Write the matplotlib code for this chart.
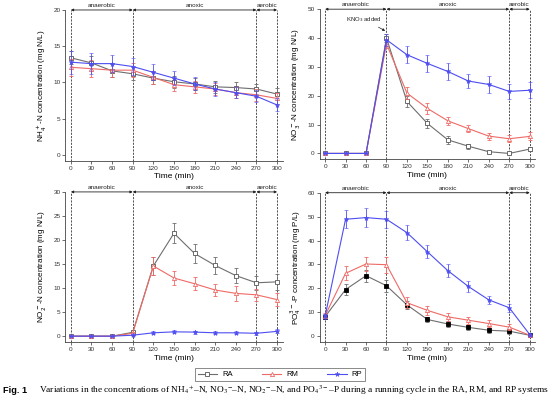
import numpy as np
import matplotlib
matplotlib.use("Agg")
import matplotlib.pyplot as plt
from matplotlib.lines import Line2D

plt.rcParams['font.family'] = ['Liberation Sans', 'DejaVu Sans']

time = [0, 30, 60, 90, 120, 150, 180, 210, 240, 270, 300]
xticks = [0, 30, 60, 90, 120, 150, 180, 210, 240, 270, 300]

# NH4+-N
nh4_ra = [13.4, 12.7, 11.6, 11.2, 10.6, 10.1, 9.8, 9.4, 9.3, 9.1, 8.4]
nh4_rm = [12.1, 11.9, 11.7, 11.7, 10.7, 9.7, 9.4, 9.1, 8.6, 8.3, 7.8]
nh4_rp = [12.8, 12.6, 12.6, 12.2, 11.4, 10.6, 9.8, 9.1, 8.6, 8.1, 6.9]
nh4_ra_err = [0.9, 1.0, 0.9, 0.9, 0.8, 0.8, 0.8, 0.8, 0.7, 0.7, 0.8]
nh4_rm_err = [1.2, 1.2, 1.0, 1.0, 0.9, 0.9, 0.8, 0.8, 0.8, 0.8, 0.8]
nh4_rp_err = [1.6, 1.4, 1.2, 1.2, 1.1, 1.0, 0.9, 0.9, 0.8, 0.8, 0.9]

# NO3--N
no3_ra = [0, 0, 0, 40.0, 18.0, 10.4, 4.7, 2.5, 0.6, 0.0, 1.5]
no3_rm = [0, 0, 0, 38.0, 20.9, 15.6, 11.3, 8.6, 6.0, 5.1, 5.9]
no3_rp = [0, 0, 0, 39.4, 34.2, 31.2, 28.4, 25.1, 23.9, 21.5, 21.9]
no3_ra_err = [0, 0, 0, 1.5, 2.0, 1.6, 1.3, 0.8, 0.4, 0.2, 0.6]
no3_rm_err = [0, 0, 0, 1.5, 2.2, 1.8, 1.5, 1.3, 1.2, 1.3, 1.4]
no3_rp_err = [0, 0, 0, 2.0, 3.0, 3.0, 3.0, 2.5, 2.8, 2.5, 2.8]

# NO2--N
no2_ra = [0, 0, 0, 0.8, 14.6, 21.4, 17.2, 14.7, 12.6, 11.1, 11.3]
no2_rm = [0, 0, 0, 0.6, 14.6, 12.1, 10.9, 9.6, 8.9, 8.6, 7.6]
no2_rp = [0, 0, 0, 0.2, 0.7, 0.9, 0.85, 0.7, 0.7, 0.6, 1.0]
no2_ra_err = [0, 0, 0, 0.2, 1.8, 2.1, 2.0, 1.7, 1.6, 1.5, 1.7]
no2_rm_err = [0, 0, 0, 0.2, 1.8, 1.5, 1.4, 1.3, 1.5, 1.3, 1.3]
no2_rp_err = [0, 0, 0, 0.1, 0.3, 0.3, 0.3, 0.3, 0.3, 0.3, 0.4]

# PO43--P
po4_ra = [8.2, 19.5, 25.3, 21.1, 13.1, 7.0, 5.1, 3.7, 2.5, 2.1, 0.4]
po4_rm = [8.6, 26.3, 30.2, 29.9, 14.0, 10.8, 8.1, 6.7, 5.3, 3.8, 0.4]
po4_rp = [8.4, 48.9, 49.6, 48.9, 43.3, 35.3, 27.4, 20.8, 15.2, 11.9, 0.7]
po4_ra_err = [1.0, 2.2, 2.5, 2.5, 1.6, 1.2, 1.2, 1.1, 1.1, 1.1, 0.3]
po4_rm_err = [1.0, 3.0, 3.0, 3.3, 2.2, 1.8, 1.6, 1.5, 1.5, 1.3, 0.3]
po4_rp_err = [1.0, 3.8, 4.0, 3.5, 3.2, 2.8, 2.7, 2.3, 1.8, 1.7, 0.5]

phase_bounds = [0, 90, 270, 300]
phase_names = ['anaerobic', 'anoxic', 'aerobic']

c_ra = '#6e6e6e'
c_rm = '#ee6a66'
c_rp = '#4d4df2'


def draw_panel(ax, ra, rm, rp, ra_err, rm_err, rp_err, ymax, ystep, ylabel, ra_filled=False):
    ymin = -0.04 * ymax
    for x in phase_bounds:
        ax.plot([x, x], [ymin, ymax], ls=(0, (2.5, 1.5)), color='#333333', lw=0.6, zorder=1)
    for i in range(3):
        x0, x1 = phase_bounds[i], phase_bounds[i + 1]
        ax.annotate('', xy=(x1, ymax), xytext=(x0, ymax),
                    arrowprops=dict(arrowstyle='<|-|>', color='#222222', lw=0.6,
                                    mutation_scale=3.5, shrinkA=0, shrinkB=0),
                    annotation_clip=False)
        ax.text((x0 + x1) / 2, ymax + 0.015 * ymax, phase_names[i], ha='center', va='bottom',
                fontsize=4.6, color='#222222', clip_on=False)

    ra_face = 'black' if ra_filled else 'white'
    ra_edge = 'black' if ra_filled else '#555555'
    ax.errorbar(time, ra, yerr=ra_err, color=c_ra, lw=0.8, marker='s', ms=3,
                mfc=ra_face, mec=ra_edge, mew=0.6, elinewidth=0.6, capsize=1.3,
                capthick=0.6, zorder=3)
    ax.errorbar(time, rm, yerr=rm_err, color=c_rm, lw=0.8, marker='^', ms=3,
                mfc='white', mec=c_rm, mew=0.6, elinewidth=0.6, capsize=1.3,
                capthick=0.6, zorder=4)
    ax.errorbar(time, rp, yerr=rp_err, color=c_rp, lw=0.8, marker='*', ms=3.5,
                mfc=c_rp, mec=c_rp, mew=0.4, elinewidth=0.6, capsize=1.3,
                capthick=0.6, zorder=5)

    ax.set_xlim(-8, 308)
    ax.set_ylim(ymin, ymax)
    ax.set_xticks(xticks)
    ax.set_yticks(np.arange(0, ymax + 0.1, ystep))
    for s in ['top', 'right']:
        ax.spines[s].set_visible(False)
    for s in ['left', 'bottom']:
        ax.spines[s].set_linewidth(0.6)
        ax.spines[s].set_color('#444444')
    ax.tick_params(labelsize=4.6, length=2, width=0.5, pad=1.5, colors='#333333')
    ax.set_xlabel('Time (min)', fontsize=6, labelpad=2)
    ax.set_ylabel(ylabel, fontsize=5.8, labelpad=3)


fig = plt.figure(figsize=(5.54, 3.99), dpi=100)
ax1 = fig.add_axes([0.118, 0.597, 0.392, 0.378])
ax2 = fig.add_axes([0.577, 0.601, 0.389, 0.376])
ax3 = fig.add_axes([0.118, 0.143, 0.392, 0.376])
ax4 = fig.add_axes([0.577, 0.143, 0.389, 0.374])

draw_panel(ax1, nh4_ra, nh4_rm, nh4_rp, nh4_ra_err, nh4_rm_err, nh4_rp_err, 20, 5,
           'NH$_4^+$-N concentration (mg N/L)')
draw_panel(ax2, no3_ra, no3_rm, no3_rp, no3_ra_err, no3_rm_err, no3_rp_err, 50, 10,
           'NO$_3^-$-N concentration (mg N/L)')
draw_panel(ax3, no2_ra, no2_rm, no2_rp, no2_ra_err, no2_rm_err, no2_rp_err, 30, 5,
           'NO$_2^-$-N concentration (mg N/L)')
draw_panel(ax4, po4_ra, po4_rm, po4_rp, po4_ra_err, po4_rm_err, po4_rp_err, 60, 10,
           'PO$_4^{3-}$-P concentration (mg P/L)', ra_filled=True)

ax2.annotate('KNO$_3$ added', xy=(88, 42.5), xytext=(57, 46.5), fontsize=4.3,
             ha='center', va='center', color='#222222',
             arrowprops=dict(arrowstyle='-|>', color='#222222', lw=0.5, mutation_scale=3.5,
                             shrinkA=1, shrinkB=0))

handles = [
    Line2D([], [], color=c_ra, lw=0.8, marker='s', ms=3, mfc='white', mec='#555555', mew=0.6),
    Line2D([], [], color=c_rm, lw=0.8, marker='^', ms=3, mfc='white', mec=c_rm, mew=0.6),
    Line2D([], [], color=c_rp, lw=0.8, marker='*', ms=3.5, mfc=c_rp, mec=c_rp, mew=0.4),
]
leg = fig.legend(handles, ['RA', 'RM', 'RP'], loc='center', bbox_to_anchor=(0.505, 0.061),
                 ncol=3, fontsize=5.5, frameon=True, fancybox=False, edgecolor='#333333',
                 handlelength=2.6, columnspacing=3.8, borderpad=0.35, handletextpad=0.6)
leg.get_frame().set_linewidth(0.5)

fig.text(0.005, 0.022, 'Fig. 1', fontsize=6.6, fontweight='bold', family='Liberation Sans',
         va='center', ha='left')
fig.text(0.070, 0.022,
         'Variations in the concentrations of NH$_4$$^{+}$–N, NO$_3$$^{-}$–N, NO$_2$$^{-}$–N, '
         'and PO$_4$$^{3-}$–P during a running cycle in the RA, RM, and RP systems',
         fontsize=6.75, family='Liberation Serif', math_fontfamily='stix', va='center', ha='left')

fig.savefig('out.png', dpi=100)
